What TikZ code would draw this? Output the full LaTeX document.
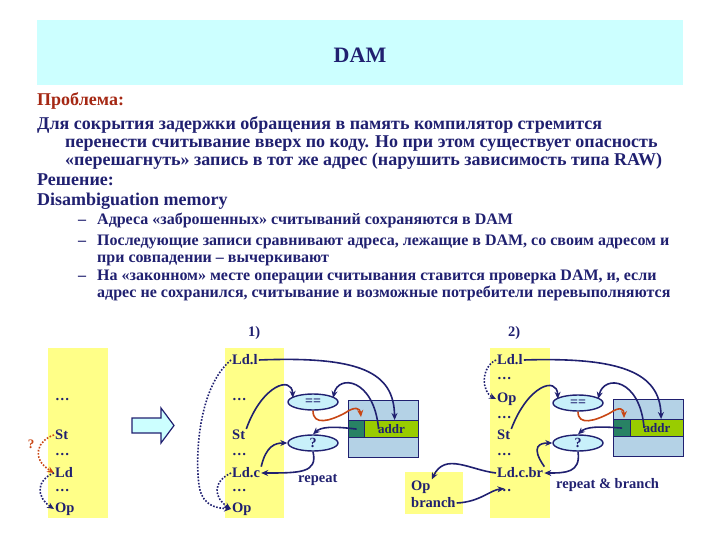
\documentclass[tikz,border=0pt]{standalone}
\usepackage{fontspec}
\setmainfont{Liberation Serif}
\usetikzlibrary{shapes.geometric,arrows.meta,calc}
\definecolor{navy}{RGB}{32,32,112}
\definecolor{titlebg}{RGB}{204,255,255}
\definecolor{ycol}{RGB}{255,255,136}
\definecolor{ellf}{RGB}{200,240,250}
\definecolor{tabf}{RGB}{180,210,230}
\definecolor{dgreen}{RGB}{40,130,100}
\definecolor{addrf}{RGB}{153,204,0}
\definecolor{redarr}{RGB}{200,70,20}
\definecolor{probred}{RGB}{165,40,20}
\tikzset{
  mtext/.style={anchor=base west,inner sep=0pt,text=navy,font=\fontsize{18}{20}\selectfont\bfseries},
  btext/.style={anchor=base west,inner sep=0pt,text=navy,font=\fontsize{16}{18}\selectfont\bfseries},
  item/.style={anchor=west,inner sep=1pt,text=navy,font=\fontsize{14.5}{16}\selectfont\bfseries},
  ycolumn/.style={fill=ycol,draw=none},
  arr/.style={draw=navy,line width=1.6pt,-{Stealth[length=7pt,width=6pt]}},
  darr/.style={draw=navy,line width=1.6pt,dash pattern=on 1.6pt off 1.6pt,-{Stealth[length=7pt,width=6pt]}},
  rdarr/.style={draw=redarr,line width=1.6pt,dash pattern=on 1.6pt off 1.6pt,-{Stealth[length=7pt,width=6pt]}},
  rarr/.style={draw=redarr,line width=1.6pt,-{Stealth[length=7pt,width=6pt]}},
  ell/.style={ellipse,draw=navy,fill=ellf,line width=1.4pt,minimum width=50pt,minimum height=16pt,inner sep=0pt,text=navy,font=\fontsize{14}{15}\selectfont\bfseries},
  cell/.style={rectangle,draw=navy,line width=1.2pt,inner sep=0pt,anchor=north west},
}
\begin{document}
\begin{tikzpicture}[x=1pt,y=-1pt]
\useasboundingbox (0,0) rectangle (720,540);
% title band
\fill[titlebg] (37,20) rectangle (683,85);
\node[text=navy,font=\fontsize{22}{24}\selectfont\bfseries] (title) at (360,55) {DAM};
% text
\node[mtext,text=probred] (t1) at (37,106) {Проблема:};
\node[mtext] (t2) at (37,130) {Для сокрытия задержки обращения в память компилятор стремится};
\node[mtext] (t3) at (65,148) {перенести считывание вверх по коду. Но при этом существует опасность};
\node[mtext] (t4) at (65,166) {«перешагнуть» запись в тот же адрес (нарушить зависимость типа RAW)};
\node[mtext] (t5) at (37,186) {Решение:};
\node[mtext] (t6) at (37,206) {Disambiguation memory};
\node[btext] (b1d) at (78,225) {–};
\node[btext] (b1) at (97,225) {Адреса «заброшенных» считываний сохраняются в DAM};
\node[btext] (b2d) at (78,245) {–};
\node[btext] (b2) at (97,245) {Последующие записи сравнивают адреса, лежащие в DAM, со своим адресом и};
\node[btext] (b2b) at (97,262) {при совпадении – вычеркивают};
\node[btext] (b3d) at (78,280) {–};
\node[btext] (b3) at (97,280) {На «законном» месте операции считывания ставится проверка DAM, и, если};
\node[btext] (b3b) at (97,297) {адрес не сохранился, считывание и возможные потребители перевыполняются};
% labels
\node[item] (l1) at (247,333) {1)};
\node[item] (l2) at (507,333) {2)};
% columns
\fill[ycolumn] (48,348) rectangle (108,518);
\fill[ycolumn] (225,348) rectangle (284,518);
\fill[ycolumn] (490,348) rectangle (550,518);
\fill[ycolumn] (405,472) rectangle (463,514);
% column 1
\node[item] (a1) at (54,400) {…};
\node[item] (a2) at (54,435) {St};
\node[item] (a3) at (54,455) {…};
\node[item] (a4) at (54,473) {Ld};
\node[item] (a5) at (54,491) {…};
\node[item] (a6) at (54,509) {Op};
\node[text=redarr,font=\fontsize{13}{14}\selectfont\bfseries,inner sep=0pt] (qm) at (31,444) {?};
\draw[rdarr] (a2.west) .. controls (38,440) and (30,458) .. (a4.west);
\draw[darr] (a4.west) .. controls (36,480) and (36,497) .. (a6.west);
% big arrow
\draw[navy,fill=titlebg,line width=1.2pt] (132,418) -- (161,418) -- (161,408) -- (174,425.5) -- (161,443) -- (161,433) -- (132,433) -- cycle;
% column 2
\node[item] (c1) at (231,360) {Ld.l};
\node[item] (c2) at (231,400) {…};
\node[item] (c3) at (231,435) {St};
\node[item] (c4) at (231,455) {…};
\node[item] (c5) at (231,473) {Ld.c};
\node[item] (c6) at (231,491) {…};
\node[item] (c7) at (231,509) {Op};
\draw[darr] (c1.west) .. controls (195,390) and (195,470) .. (200,490) .. controls (204,505) and (215,508) .. (c7.west);
\draw[darr] (c5.west) .. controls (212,482) and (214,498) .. (c7.west);
% structure 1
\node[ell] (eq1) at (313,402) {==};
\node[ell] (q1) at (313,443) {?};
\node[cell,fill=tabf,minimum width=70pt,minimum height=57pt] (tab1) at (348,400) {};
\node[cell,fill=dgreen,minimum width=16pt,minimum height=17pt] (dk1) at (348,420) {};
\node[cell,fill=addrf,minimum width=54pt,minimum height=17pt,text=navy,font=\fontsize{13}{14}\selectfont\bfseries] (ad1) at (364,420) {addr};
\node[item] (rep1) at (297,480) {repeat};
\draw[arr] (c1.east) .. controls (360,356) and (394,372) .. ($(ad1.north)+(3,0)$);
\draw[arr] (c3.north east) .. controls (262,385) and (292,375) .. ($(eq1.north west)+(-2,2)$);
\draw[arr] ($(ad1.center)+(-13,0)$) .. controls (374,378) and (338,374) .. ($(eq1.north east)+(2,2)$);
\draw[rarr] (eq1.south) .. controls (313,426) and (330,421) .. (345,413) .. controls (355,406) and (360,408) .. (361,417);
\draw[arr] (dk1.center) .. controls (332,426) and (321,427) .. (q1.north);
\draw[arr] (q1.south) .. controls (318,473) and (300,473) .. (c5.east);
\draw[arr] (c5.north east) .. controls (266,446) and (275,443) .. (q1.west);
% op branch box
\node[item] (opb) at (410,487) {Op};
\node[item] (brb) at (410,503) {branch};
% column 3
\node[item] (d1) at (496,360) {Ld.l};
\node[item] (d2) at (496,379) {…};
\node[item] (d3) at (496,399) {Op};
\node[item] (d4) at (496,418) {…};
\node[item] (d5) at (496,435) {St};
\node[item] (d6) at (496,455) {…};
\node[item] (d7) at (496,473) {Ld.c.br};
\node[item] (d8) at (496,491) {…};
\draw[darr] (d1.west) .. controls (480,368) and (482,392) .. (d3.west);
\draw[arr] (d7.west) .. controls (470,470) and (445,452) .. (opb.north east);
\draw[arr] (brb.east) .. controls (480,502) and (490,490) .. (d8.north);
% structure 2
\node[ell] (eq2) at (578,403) {==};
\node[ell] (q2) at (578,443) {?};
\node[cell,fill=tabf,minimum width=70pt,minimum height=57pt] (tab2) at (613,399) {};
\node[cell,fill=dgreen,minimum width=17pt,minimum height=17pt] (dk2) at (613,419) {};
\node[cell,fill=addrf,minimum width=53pt,minimum height=17pt,text=navy,font=\fontsize{13}{14}\selectfont\bfseries] (ad2) at (630,419) {addr};
\node[item] (rep2) at (555,485) {repeat \& branch};
\draw[arr] (d1.east) .. controls (620,357) and (660,372) .. ($(ad2.north)+(4,0)$);
\draw[arr] (d5.north east) .. controls (528,385) and (557,376) .. ($(eq2.north west)+(-2,2)$);
\draw[arr] ($(ad2.center)+(-13,0)$) .. controls (640,378) and (604,374) .. ($(eq2.north east)+(2,2)$);
\draw[rarr] (eq2.south) .. controls (578,426) and (595,421) .. (610,413) .. controls (620,406) and (624,409) .. (624,418);
\draw[arr] (dk2.center) .. controls (597,426) and (586,427) .. (q2.north);
\draw[arr] (q2.south) .. controls (581,473) and (565,473) .. (d7.east);
\draw[arr] (d7.north east) .. controls (530,446) and (540,443) .. (q2.west);
\end{tikzpicture}
\end{document}
